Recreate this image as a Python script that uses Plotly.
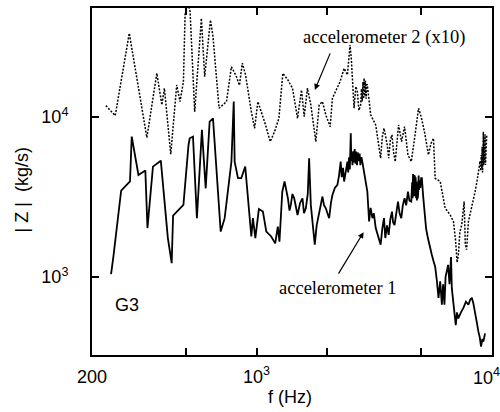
import plotly.graph_objects as go

# accelerometer 1 (solid)
f1 = [241, 247, 266, 290, 295, 315, 337, 344, 363, 392, 420, 436, 442, 489, 514, 520, 537, 558,
      586, 608, 632, 653, 704, 732, 782, 800, 807, 834, 861, 895, 950, 965, 988, 1023, 1064, 1100,
      1154, 1200, 1231, 1251, 1286, 1315, 1359, 1380, 1398, 1420, 1445, 1470, 1493, 1530, 1567, 1590,
      1619, 1650, 1672, 1700, 1730, 1767, 1800, 1845, 1875, 1905, 1935, 1968, 2000, 2034, 2070, 2100,
      2150, 2205, 2240, 2277, 2300, 2330, 2354, 2390, 2432, 2450, 2470, 2490, 2513, 2525, 2540, 2555,
      2570, 2590, 2610, 2630, 2650, 2670, 2690, 2720, 2740, 2760, 2790, 2813, 2880, 2955, 3006, 3050,
      3105, 3150, 3207, 3280, 3365, 3420, 3477, 3522, 3580, 3640, 3700, 3760, 3800, 3855, 3920, 3988,
      4050, 4118, 4180, 4252, 4320, 4396, 4460, 4540, 4580, 4600, 4620, 4640, 4660, 4680, 4700, 4720,
      4740, 4760, 4780, 4800, 4820, 4840, 4860, 4880, 4900, 4930, 4960, 5000, 5036, 5100, 5166, 5250,
      5342, 5450, 5554, 5650, 5736, 5830, 5926, 6025, 6125, 6200, 6282, 6350, 6430, 6510, 6600, 6700,
      6750, 6880, 7015, 7100, 7196, 7380, 7560, 7750, 7940, 8080, 8210, 8340, 8476, 8620, 8755, 8870,
      8985, 9100, 9190, 9345]
z1 = [1040, 1370, 3460, 3950, 7540, 4340, 4620, 2020, 4890, 5330, 1750, 1220, 2420, 2820, 6680, 7360, 7540, 2330,
      8300, 3580, 9350, 9810, 1920, 2330, 5260, 12470, 5260, 4140, 4140, 4890, 1790, 2330, 1750, 2660, 2560, 1920,
      1790, 1620, 2060, 1660, 3410, 3950, 3100, 2600, 2820, 3300, 3100, 2700, 2440, 2900, 3100, 2500,
      2690, 3300, 5520, 2820, 2100, 1590, 2100, 2560, 2900, 3180, 2800, 2690, 2500, 2330, 2900, 3250,
      3600, 3760, 4300, 5260, 4200, 4800, 3950, 4600, 5260, 4500, 5600, 4700, 7910, 5300, 6000, 5000,
      6100, 5200, 6300, 5100, 6070, 5000, 6000, 5300, 5900, 5000, 5600, 5260, 4300, 3410, 2220, 2700,
      2330, 2500, 2020, 1800, 1590, 2000, 2330, 1750, 2100, 1830, 2300, 2560, 2200, 2110, 2600, 2960,
      2500, 2330, 2800, 3100, 2800, 3410, 3000, 2960, 3900, 3100, 4400, 3300, 4340, 3200, 4300, 3300,
      4200, 3100, 3950, 3000, 3800, 3100, 3410, 4300, 3500, 4000, 3600, 4140, 4140, 3200, 2560, 2000,
      1750, 1500, 1370, 1250, 1160, 950, 740, 940, 670, 900, 670, 1000, 1080, 1190, 900, 1330,
      850, 650, 500, 600, 550, 600, 640, 700, 670, 720, 740, 680, 610, 520, 455, 420,
      367, 410, 394, 444]

# accelerometer 2 (x10) (dotted)
f2 = [229, 251, 288, 342, 377, 396, 406, 432, 458, 473, 489, 497, 510, 522, 546, 583, 602, 637, 653,
      693, 745, 782, 821, 846, 870, 898, 950, 981, 1013, 1048, 1092, 1143, 1192, 1244, 1293, 1359,
      1421, 1493, 1552, 1593, 1645, 1700, 1785, 1845, 1905, 1968, 2054, 2100, 2169, 2263, 2354, 2432,
      2495, 2525, 2595, 2640, 2680, 2720, 2768, 2790, 2810, 2830, 2850, 2862, 2880, 2900, 2920, 2940,
      2955, 3053, 3207, 3365, 3420, 3477, 3590, 3640, 3700, 3760, 3820, 3882, 3950, 4010, 4130, 4252,
      4396, 4540, 4690, 4875, 5000, 5166, 5373, 5500, 5642, 5736, 6025, 6325, 6640, 6860, 7000, 7110,
      7196, 7300, 7435, 7614, 7700, 7800, 7940, 8130, 8300, 8476, 8620, 8755, 8900, 8960, 9000, 9045,
      9080, 9120, 9150, 9190, 9220, 9260, 9300, 9345, 9380, 9420, 9460, 9500]
z2 = [11770, 10190, 33340, 7430, 18750, 11890, 15110, 5850, 15850, 12470, 16620, 43400, 52000, 45500, 10790, 41400, 17870, 40360, 31770,
      11330, 12470, 20600, 17870, 15780, 21680, 18300, 10790, 8500, 12470, 10790, 8910, 7010, 8090, 9810, 18750, 17020,
      15110, 9810, 14750, 10050, 15110, 11890, 7010, 11890, 12470, 10300, 8700, 13090, 14390, 16620, 20130, 18300,
      28180, 23280, 11330, 15500, 14390, 11000, 11890, 15000, 12500, 16500, 13000, 17460, 13500, 16800, 13000, 16000,
      15850, 10300, 8910, 5520, 7500, 8500, 6680, 5520, 7200, 7720, 6000, 5260, 7500, 8910, 7010, 8700,
      5790, 5260, 7360, 11330, 10050, 8090, 5790, 6800, 7360, 4140, 3950, 2690, 2440, 2220, 1700, 1230,
      1370, 1900, 2110, 2960, 1600, 1480, 2220, 2560, 2900, 3410, 3900, 4550, 5300, 4600, 5790, 4800,
      6500, 4500, 7000, 8090, 5000, 7400, 5200, 7800, 5010, 6800, 5500, 7720]

# axis ticks
x_tickvals = [200, 500, 1000, 2000, 5000, 10000]
x_ticktext = ["200", "", "10<sup>3</sup>", "", "", ""]
y_tickvals = [1000, 10000]
y_ticktext = ["10<sup>3</sup>", "10<sup>4</sup>"]

fig = go.Figure()
fig.add_trace(go.Scatter(x=f2, y=z2, mode="lines",
                         line=dict(color="black", width=1.5, dash="2px,1.5px"),
                         showlegend=False, hoverinfo="skip"))
fig.add_trace(go.Scatter(x=f1, y=z1, mode="lines",
                         line=dict(color="black", width=1.8),
                         showlegend=False, hoverinfo="skip"))

tickfont = dict(family="Liberation Sans, Arial, sans-serif", size=18, color="black")

fig.update_layout(
    width=500, height=412,
    margin=dict(l=92, r=6, t=8, b=57),
    paper_bgcolor="white", plot_bgcolor="white",
    xaxis=dict(type="log", range=[2.30103, 4.0],
               tickvals=x_tickvals, ticktext=x_ticktext,
               ticks="inside", ticklen=7, tickwidth=1.5, tickcolor="black",
               showline=True, linecolor="black", linewidth=2, mirror="ticks",
               showgrid=False, zeroline=False, tickfont=tickfont,
               ticklabelstandoff=4),
    yaxis=dict(type="log", range=[2.512, 4.681],
               tickvals=y_tickvals, ticktext=y_ticktext,
               ticks="inside", ticklen=7, tickwidth=1.5, tickcolor="black",
               showline=True, linecolor="black", linewidth=2, mirror="ticks",
               showgrid=False, zeroline=False, tickfont=tickfont,
               ticklabelstandoff=18),
)

serif = dict(family="Liberation Serif, Times New Roman, serif", size=18.5, color="black")
sans = dict(family="Liberation Sans, Arial, sans-serif", size=18, color="black")

anns = [
    dict(text="10<sup>4</sup>", xref="paper", yref="paper", x=0.987, y=-0.023,
         xanchor="center", yanchor="top", showarrow=False, font=sans),
    dict(text="accelerometer 2 (x10)", xref="paper", yref="paper", x=0.731, y=0.916,
         xanchor="center", yanchor="middle", showarrow=False, font=serif),
    dict(text="", xref="paper", yref="paper", x=0.557, y=0.764, ax=16, ay=-38,
         showarrow=True, arrowhead=2, arrowsize=1, arrowwidth=1.2, arrowcolor="black"),
    dict(text="accelerometer 1", xref="paper", yref="paper", x=0.614, y=0.193,
         xanchor="center", yanchor="middle", showarrow=False, font=serif),
    dict(text="", xref="paper", yref="paper", x=0.679, y=0.354, ax=-26, ay=43,
         showarrow=True, arrowhead=2, arrowsize=1, arrowwidth=1.2, arrowcolor="black"),
    dict(text="G3", xref="paper", yref="paper", x=0.087, y=0.144,
         xanchor="center", yanchor="middle", showarrow=False, font=sans),
    dict(text="| Z |  (kg/s)", xref="paper", yref="paper", x=-0.174, y=0.4755,
         xanchor="center", yanchor="middle", textangle=-90, showarrow=False, font=sans),
    dict(text="f (Hz)", xref="paper", yref="paper", x=0.496, y=-0.121,
         xanchor="center", yanchor="middle", showarrow=False, font=sans),
]
fig.update_layout(annotations=anns)

fig.write_html("out.html")
